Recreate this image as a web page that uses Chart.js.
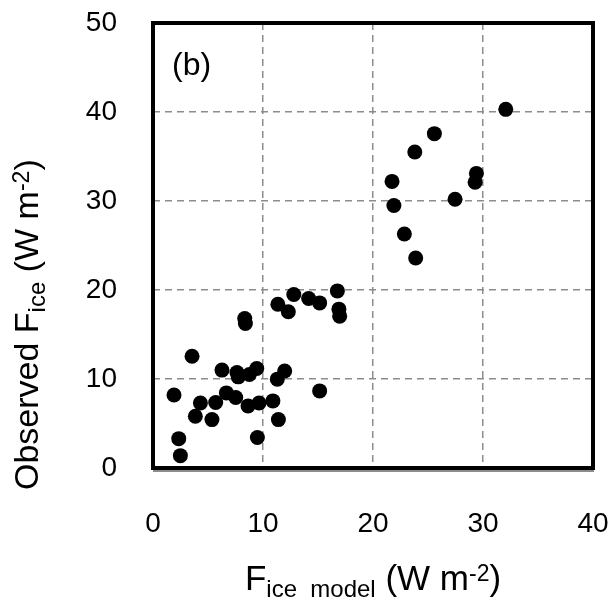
<!DOCTYPE html>
<html>
<head>
<meta charset="utf-8">
<script src="https://cdn.jsdelivr.net/npm/chart.js@4.4.1/dist/chart.umd.min.js"></script>
<style>
  html, body { margin: 0; padding: 0; background: #ffffff; }
  #wrap { width: 608px; height: 608px; }
</style>
</head>
<body>
<div id="wrap"><canvas id="fluxChart" width="608" height="608"></canvas></div>
<script>
/* ---------- data ---------- */
var modelFlux = [32.07, 25.58, 23.8, 21.73, 29.4, 29.28, 27.46, 21.9, 22.85, 23.88,
  16.76, 12.8, 14.15, 15.15, 11.35, 12.3, 16.9, 16.97, 8.34, 8.4,
  3.55, 6.27, 7.63, 7.75, 8.76, 9.43, 11.97, 11.3, 15.15, 1.91,
  6.67, 7.52, 4.31, 5.7, 8.64, 9.64, 10.9, 3.85, 5.36, 11.4,
  2.34, 9.49, 2.49];
var observedFlux = [40.3, 37.57, 35.5, 32.2, 33.1, 32.1, 30.2, 29.5, 26.3, 23.6,
  19.9, 19.5, 19.05, 18.55, 18.4, 17.55, 17.85, 17.06, 16.8, 16.24,
  12.56, 11.0, 10.73, 10.24, 10.5, 11.18, 10.9, 9.98, 8.66, 8.2,
  8.44, 7.92, 7.31, 7.36, 6.98, 7.31, 7.54, 5.82, 5.44, 5.44,
  3.3, 3.42, 1.39];
var xTickValues = [0, 10, 20, 30, 40];
var yTickValues = [0, 10, 20, 30, 40, 50];
var panelLabel = "(b)";

var FONT = '"Liberation Sans", Arial, sans-serif';

/* ---------- helpers for titles with sub/superscripts ---------- */
function richWidth(ctx, parts) {
  var w = 0;
  parts.forEach(function (p) {
    ctx.font = p[1] + "px " + FONT;
    w += ctx.measureText(p[0]).width;
  });
  return w;
}
function drawRich(ctx, parts, x, y) {
  var cx = x;
  parts.forEach(function (p) {
    ctx.font = p[1] + "px " + FONT;
    ctx.fillText(p[0], cx, y + p[2]);
    cx += ctx.measureText(p[0]).width;
  });
}

/* ---------- frame, titles and panel letter ---------- */
var decorPlugin = {
  id: "decor",
  beforeDatasetsDraw: function (chart) {
    var ctx = chart.ctx;
    var a = chart.chartArea;
    ctx.save();
    ctx.strokeStyle = "#000000";
    ctx.lineWidth = 4;
    ctx.strokeRect(a.left, a.top, a.right - a.left, a.bottom - a.top);
    ctx.strokeStyle = "#8c8c8c";
    ctx.lineWidth = 2;
    ctx.beginPath();
    ctx.moveTo(a.left, a.bottom + 3);
    ctx.lineTo(a.right + 1, a.bottom + 3);
    ctx.stroke();
    ctx.restore();
  },
  afterDraw: function (chart) {
    var ctx = chart.ctx;
    var a = chart.chartArea;
    ctx.save();
    ctx.fillStyle = "#000000";
    ctx.textBaseline = "alphabetic";

    // panel letter
    ctx.font = "32px " + FONT;
    ctx.fillText(panelLabel, a.left + 19, a.top + 52);

    // x title
    var xParts = [["F", 35, 0], ["ice  model", 24, 7], [" (W m", 35, 0], ["-2", 23, -9], [")", 35, 0]];
    var xw = richWidth(ctx, xParts);
    drawRich(ctx, xParts, (a.left + a.right) / 2 - xw / 2, 590);

    // y title (rotated)
    var yParts = [["Observed F", 34, 0], ["ice", 24, 7], [" (W m", 34, 0], ["-2", 23, -9], [")", 34, 0]];
    ctx.translate(38, 490);
    ctx.rotate(-Math.PI / 2);
    drawRich(ctx, yParts, 0, 0);
    ctx.restore();
  }
};

/* ---------- chart ---------- */
var points = modelFlux.map(function (x, i) { return { x: x, y: observedFlux[i] }; });

var gridStyle = {
  color: "#8c8c8c",
  lineWidth: 1.5,
  drawTicks: false
};

new Chart(document.getElementById("fluxChart").getContext("2d"), {
  type: "scatter",
  data: {
    datasets: [{
      data: points,
      backgroundColor: "#000000",
      borderWidth: 0,
      pointRadius: 7.5,
      pointHoverRadius: 7.5
    }]
  },
  options: {
    responsive: false,
    animation: false,
    devicePixelRatio: 1,
    layout: { padding: { top: 23, right: 15, left: 0, bottom: 0 } },
    plugins: {
      legend: { display: false },
      tooltip: { enabled: false }
    },
    scales: {
      x: {
        type: "linear",
        min: 0,
        max: 40,
        afterBuildTicks: function (s) { s.ticks = xTickValues.map(function (v) { return { value: v }; }); },
        afterFit: function (s) { s.height = 140; s.paddingLeft = 0; s.paddingRight = 0; },
        border: { display: false, dash: [7, 5] },
        grid: gridStyle,
        ticks: { color: "#000000", padding: 39, maxRotation: 0, font: { family: FONT, size: 28 } }
      },
      y: {
        type: "linear",
        min: 0,
        max: 50,
        afterBuildTicks: function (s) { s.ticks = yTickValues.map(function (v) { return { value: v }; }); },
        afterFit: function (s) { s.width = 153; s.paddingTop = 0; s.paddingBottom = 0; },
        border: { display: false, dash: [7, 5] },
        grid: gridStyle,
        ticks: { color: "#000000", padding: 36, font: { family: FONT, size: 28 } }
      }
    }
  },
  plugins: [decorPlugin]
});
</script>
</body>
</html>
